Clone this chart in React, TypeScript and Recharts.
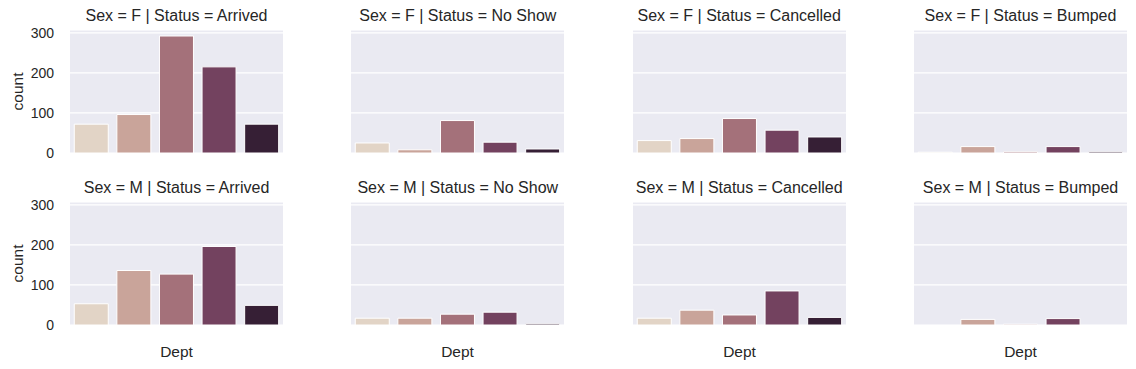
import React from 'react';
import { BarChart, Bar, XAxis, YAxis, CartesianGrid, Cell } from 'recharts';

const depts = ['A', 'B', 'C', 'D', 'E'];
const statuses = ['Arrived', 'No Show', 'Cancelled', 'Bumped'];
const sexes = ['F', 'M'];

// counts per Dept, one array per facet
const femaleArrived = [72, 96, 292, 215, 72];
const femaleNoShow = [25, 8, 81, 27, 10];
const femaleCancelled = [31, 36, 86, 57, 40];
const femaleBumped = [2, 16, 3, 16, 3];
const maleArrived = [53, 136, 127, 196, 49];
const maleNoShow = [17, 17, 27, 32, 3];
const maleCancelled = [17, 37, 25, 85, 19];
const maleBumped = [0, 14, 2, 16, 0];

const yTicks = [0, 100, 200, 300];
const palette = ['#e2d4c6', '#c9a49a', '#a4717a', '#73425f', '#361f35'];

const rows = [
  [femaleArrived, femaleNoShow, femaleCancelled, femaleBumped],
  [maleArrived, maleNoShow, maleCancelled, maleBumped],
];

const TEXT = '#262626';
const colLefts = [0, 281.3, 562.7, 844];
const rowTops = [0, 171.5];

const NoTick = () => <g />;

function Facet({ title, values, left, top, showY, showX }) {
  const data = depts.map((d, i) => ({ dept: d, count: values[i] }));
  return (
    <div style={{ position: 'absolute', left, top, width: 293, height: 190 }}>
      <BarChart
        width={293}
        height={190}
        data={data}
        margin={{ top: 30, right: 10, left: 0, bottom: 0 }}
        barCategoryGap="10%"
      >
        <CartesianGrid vertical={false} fill="#eaeaf2" stroke="#ffffff" strokeWidth={1.2} />
        <XAxis
          dataKey="dept"
          height={37}
          tick={false}
          tickLine={false}
          axisLine={false}
          label={
            showX
              ? { value: 'Dept', position: 'insideBottom', offset: 5, fill: TEXT, fontSize: 15.5, style: { fontSize: 15.5 } }
              : undefined
          }
        />
        <YAxis
          domain={[0, 307]}
          ticks={yTicks}
          width={70}
          axisLine={false}
          tickLine={false}
          tickSize={0}
          tickMargin={16}
          tick={showY ? { fill: TEXT, fontSize: 14 } : NoTick}
          label={
            showY
              ? {
                  value: 'count',
                  angle: -90,
                  position: 'insideLeft',
                  offset: 17,
                  fill: TEXT,
                  fontSize: 15.5,
                  style: { textAnchor: 'middle', fontSize: 15.5 },
                }
              : undefined
          }
        />
        <Bar dataKey="count" isAnimationActive={false} stroke="#ffffff" strokeWidth={1}>
          {data.map((e, i) => (
            <Cell key={`c-${i}`} fill={palette[i]} />
          ))}
        </Bar>
      </BarChart>
      <div
        style={{
          position: 'absolute',
          left: 70,
          top: 8,
          width: 213,
          textAlign: 'center',
          fontSize: 16,
          lineHeight: '16px',
          color: TEXT,
          whiteSpace: 'nowrap',
        }}
      >
        {title}
      </div>
    </div>
  );
}

export default function App() {
  return (
    <div
      style={{
        position: 'absolute',
        left: 0,
        top: 0,
        width: 1136,
        height: 369,
        background: '#ffffff',
        fontFamily: '"Liberation Sans", Arial, sans-serif',
      }}
    >
      {rows.map((row, r) =>
        row.map((values, c) => (
          <Facet
            key={`${r}-${c}`}
            title={`Sex = ${sexes[r]} | Status = ${statuses[c]}`}
            values={values}
            left={colLefts[c]}
            top={rowTops[r]}
            showY={c === 0}
            showX={r === 1}
          />
        ))
      )}
    </div>
  );
}
